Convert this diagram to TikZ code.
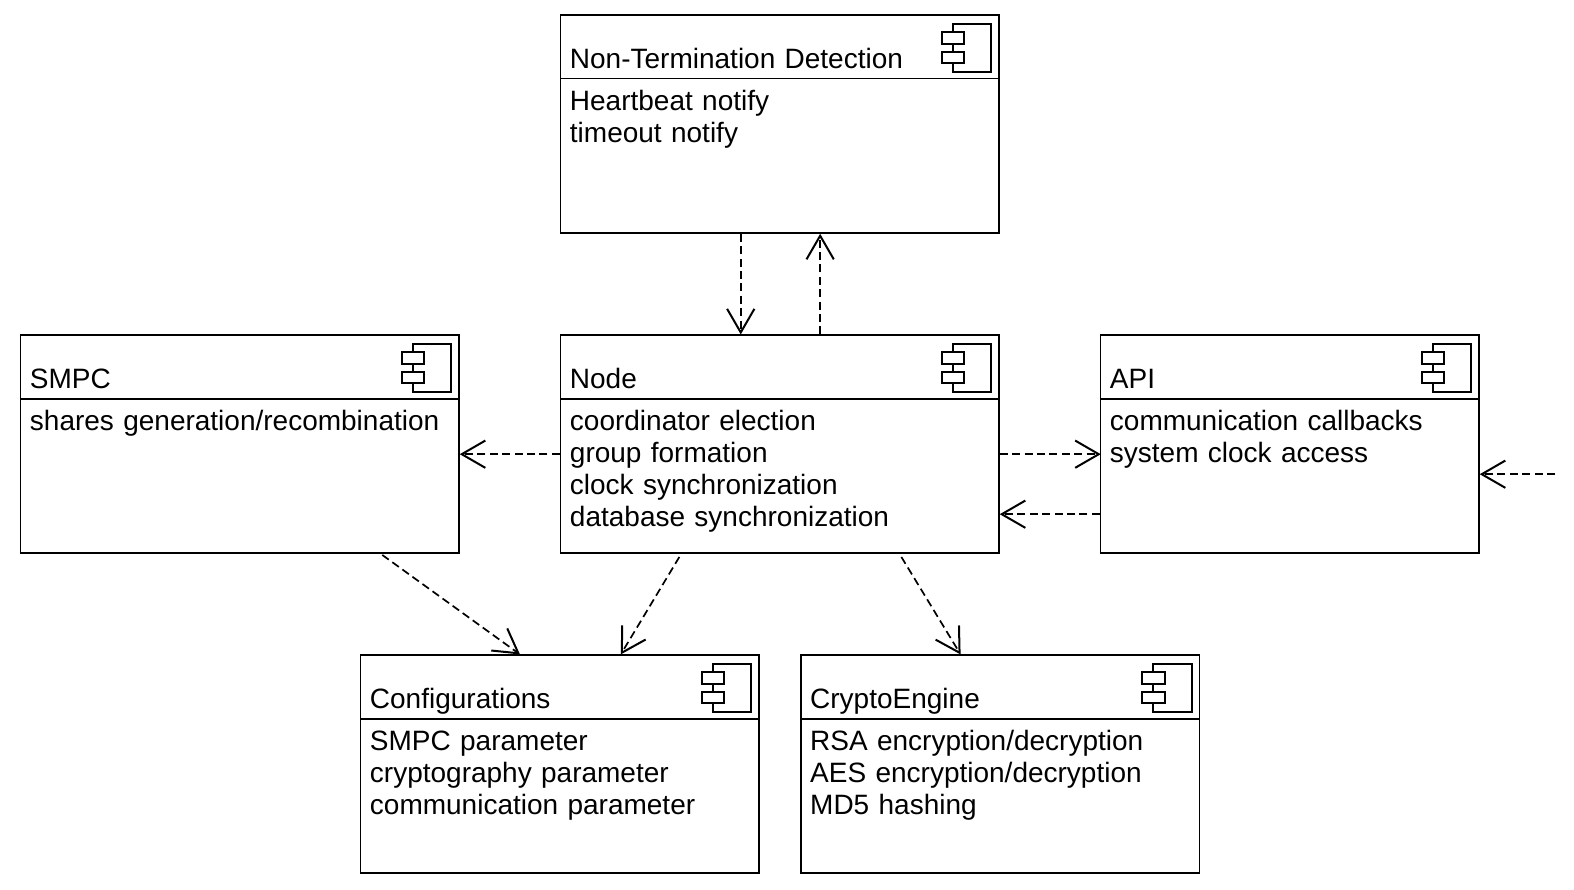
\documentclass[tikz,border=0pt]{standalone}
\usepackage{fontspec}
\setmainfont{Liberation Sans}
\usetikzlibrary{positioning, calc, arrows.meta}

\tikzset{
  comp/.style={draw, line width=1.5pt, rectangle, minimum height=218pt, inner sep=0pt},
  comptext/.style={inner sep=0pt, text width=425pt, align=left, font=\fontsize{28}{32.1}\selectfont, execute at begin node=\strut},
  dep/.style={->, >={Straight Barb[length=23.6pt,width=27.3pt,line width=2pt]}, line width=1.7pt, dash pattern=on 8pt off 4.4pt}
}

\newcommand{\compparts}[3]{
  \draw[line width=1.5pt] ($(#1.north west)+(0,-64.5)$) -- ($(#1.north east)+(0,-64.5)$);
  \node[comptext, anchor=north west] (#1title) at ($(#1.north west)+(10,-31.5)$) {#2};
  \node[comptext, anchor=north west] (#1body) at ($(#1.north west)+(10,-73.3)$) {#3};
  \draw[line width=2pt] ($(#1.north east)+(-47,-9.5)$) rectangle ($(#1.north east)+(-8.3,-58)$);
  \draw[line width=2pt, fill=white] ($(#1.north east)+(-57.7,-17.5)$) rectangle ($(#1.north east)+(-35.3,-29.8)$);
  \draw[line width=2pt, fill=white] ($(#1.north east)+(-57.7,-37.8)$) rectangle ($(#1.north east)+(-35.3,-49)$);
}

\begin{document}
\begin{tikzpicture}[x=1pt,y=1pt,on grid]
  \useasboundingbox (0,0) rectangle (1574,-890);

  \node[comp, minimum width=438.5pt] (core) at (779.75,-444.2) {};
  \node[comp, minimum width=438.5pt] (ntd) [above=320.2pt of core] {};
  \node[comp, minimum width=438.5pt] (smpc) [left=540pt of core] {};
  \node[comp, minimum width=378.5pt] (api) [right=510pt of core] {};
  \node[comp, minimum width=398.5pt] (config) [below left=320pt and 220pt of core] {};
  \node[comp, minimum width=398.5pt] (crypto) [below right=320pt and 220.25pt of core] {};
  \coordinate (apiin) at (1555,-474.2);

  \compparts{ntd}{Non-Termination Detection}{Heartbeat notify\\timeout notify}
  \compparts{core}{Node}{coordinator election\\group formation\\clock synchronization\\database synchronization}
  \compparts{smpc}{SMPC}{shares generation/recombination}
  \compparts{api}{API}{communication callbacks\\system clock access}
  \compparts{config}{Configurations}{SMPC parameter\\cryptography parameter\\communication parameter}
  \compparts{crypto}{CryptoEngine}{RSA encryption/decryption\\AES encryption/decryption\\MD5 hashing}

  \draw[dep] ($(ntd.south)+(-39,0)$) -- ($(core.north)+(-39,0)$);
  \draw[dep] ($(core.north)+(40.4,0)$) -- ($(ntd.south)+(40.4,0)$);
  \draw[dep] ($(core.west)+(0,-10)$) -- ($(smpc.east)+(0,-10)$);
  \draw[dep] ($(core.east)+(0,-10)$) -- ($(api.west)+(1,-10)$);
  \draw[dep] ($(api.west)+(0,-70)$) -- ($(core.east)+(0,-70)$);
  \draw[dep] (apiin) -- ($(api.east)+(0,-30)$);
  \draw[dep] ($(smpc.south)+(142.5,-1)$) -- ($(config.north)+(-39.75,0)$);
  \draw[dep] ($(core.south)+(-100.4,-3)$) -- ($(config.north)+(61,0)$);
  \draw[dep] ($(core.south)+(121.6,-3)$) -- ($(crypto.north)+(-39.4,0)$);
\end{tikzpicture}
\end{document}
